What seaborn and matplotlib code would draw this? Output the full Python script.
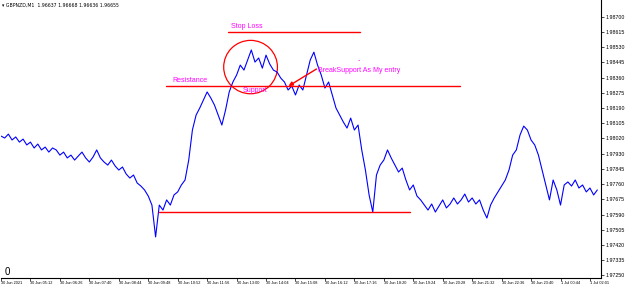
import numpy as np
import pandas as pd
import seaborn as sns
import matplotlib.pyplot as plt
from matplotlib.patches import Ellipse

# ---- data (GBPNZD M1, sampled) ----
prices = [
    1.98031, 1.98020, 1.98042, 1.98009, 1.98026, 1.97997, 1.98014, 1.97981, 1.97997, 1.97964,
    1.97986, 1.97953, 1.97969, 1.97941, 1.97964, 1.97953, 1.97924, 1.97941, 1.97908, 1.97924,
    1.97896, 1.97919, 1.97941, 1.97908, 1.97885, 1.97913, 1.97953, 1.97908, 1.97885, 1.97868,
    1.97896, 1.97863, 1.97840, 1.97857, 1.97818, 1.97795, 1.97812, 1.97767, 1.97750, 1.97728,
    1.97694, 1.97643, 1.97464, 1.97643, 1.97615, 1.97672, 1.97643, 1.97700, 1.97717, 1.97756,
    1.97784, 1.97896, 1.98065, 1.98149, 1.98189, 1.98234, 1.98279, 1.98245, 1.98205, 1.98149,
    1.98093, 1.98177, 1.98279, 1.98335, 1.98374, 1.98430, 1.98402, 1.98458, 1.98515, 1.98447,
    1.98470, 1.98413, 1.98486, 1.98436, 1.98402, 1.98391, 1.98357, 1.98335, 1.98290, 1.98312,
    1.98262, 1.98318, 1.98290, 1.98374, 1.98458, 1.98503, 1.98430, 1.98374, 1.98301, 1.98335,
    1.98262, 1.98189, 1.98149, 1.98110, 1.98076, 1.98132, 1.98065, 1.98093, 1.97953, 1.97840,
    1.97700, 1.97604, 1.97812, 1.97868, 1.97896, 1.97953, 1.97908, 1.97868, 1.97829, 1.97851,
    1.97784, 1.97728, 1.97756, 1.97694, 1.97672, 1.97643, 1.97615, 1.97649, 1.97604, 1.97638,
    1.97672, 1.97627, 1.97649, 1.97683, 1.97649, 1.97672, 1.97705, 1.97660, 1.97683, 1.97649,
    1.97672, 1.97615, 1.97570, 1.97643, 1.97683, 1.97717, 1.97750, 1.97784, 1.97840, 1.97924,
    1.97953, 1.98037, 1.98087, 1.98065, 1.98009, 1.97981, 1.97924, 1.97840, 1.97756, 1.97672,
    1.97784, 1.97728, 1.97643, 1.97756, 1.97773, 1.97750, 1.97784, 1.97739, 1.97756, 1.97717,
    1.97739, 1.97700, 1.97728,
]

time_labels = [
    "30 Jun 2021", "30 Jun 05:12", "30 Jun 06:26", "30 Jun 07:40", "30 Jun 08:44",
    "30 Jun 09:48", "30 Jun 10:52", "30 Jun 11:56", "30 Jun 13:00", "30 Jun 14:04",
    "30 Jun 15:08", "30 Jun 16:12", "30 Jun 17:16", "30 Jun 18:20", "30 Jun 19:24",
    "30 Jun 20:28", "30 Jun 21:32", "30 Jun 22:36", "30 Jun 23:40", "1 Jul 00:44",
    "1 Jul 02:01",
]

price_ticks = [
    "1.98700", "1.98615", "1.98530", "1.98445", "1.98360", "1.98275", "1.98190",
    "1.98105", "1.98020", "1.97930", "1.97845", "1.97760", "1.97675", "1.97590",
    "1.97505", "1.97420", "1.97335", "1.97250",
]

stop_loss = 1.98616
resistance = 1.98312
support_low = 1.97604

sns.set_theme(style="white")
plt.rcParams['font.family'] = ['Liberation Sans', 'DejaVu Sans']

fig = plt.figure(figsize=(6.25, 2.89), dpi=100)
fig.patch.set_facecolor('white')
ax = fig.add_axes([0.0016, 11 / 289, 601 / 625 - 0.0016, 278 / 289])
ax.set_facecolor('white')

df = pd.DataFrame({'bar': np.arange(len(prices)), 'price': prices})
sns.lineplot(data=df, x='bar', y='price', color='#0000FF', lw=0.8,
             estimator=None, ax=ax)

ax.set_xlim(0, 163)
ax.set_ylim(1.97233, 1.98796)

# right price axis
ax.yaxis.tick_right()
ax.set_yticks([float(t) for t in price_ticks])
ax.set_yticklabels(price_ticks)
ax.tick_params(axis='y', which='both', direction='out', length=2.5, width=0.5,
               labelsize=3.8, pad=1, right=True, left=False, colors='black')

# time axis
ax.set_xticks(np.arange(len(time_labels)) * 8)
ax.set_xticklabels(time_labels, ha='left')
ax.tick_params(axis='x', direction='out', length=2, width=0.5, labelsize=2.8,
               pad=0.5, bottom=True, colors='black')
ax.set_xlabel('')
ax.set_ylabel('')

for s in ['top', 'left']:
    ax.spines[s].set_visible(False)
for s in ['right', 'bottom']:
    ax.spines[s].set_color('black')
    ax.spines[s].set_linewidth(0.8)

red = '#FF0000'
mag = '#FF00FF'
# horizontal levels
ax.plot([61.8, 97.6], [stop_loss, stop_loss], color=red, lw=1)
ax.plot([44.8, 124.8], [resistance, resistance], color=red, lw=1)
ax.plot([42.9, 111.2], [support_low, support_low], color=red, lw=1)

# circle
ax.add_patch(Ellipse((67.8, 1.98419), width=14.6, height=0.00300,
                     fill=False, edgecolor=red, lw=0.9))

# arrow
ax.annotate('', xy=(78.1, resistance), xytext=(85.7, 1.98408),
            arrowprops=dict(arrowstyle='-|>', color=red, lw=1,
                            mutation_scale=6, shrinkA=0, shrinkB=0))

ax.text(62.4, 1.98627, 'Stop Loss', color=mag, fontsize=5, va='bottom', ha='left')
ax.text(46.6, 1.98323, 'Resistance', color=mag, fontsize=5, va='bottom', ha='left')
ax.text(65.6, 1.98305, 'Support', color=mag, fontsize=5, va='top', ha='left')
ax.text(86.2, 1.98402, 'BreakSupport As My entry', color=mag, fontsize=5,
        va='center', ha='left')
ax.text(97.1, 1.98453, '-', color=mag, fontsize=5, va='center', ha='center')

fig.text(2 / 625, 1 - 5 / 289, '\u25be GBPNZD,M1  1.96637 1.96668 1.96636 1.96655',
         fontsize=3.3, va='center', ha='left', color='black',
         family=['DejaVu Sans'])
fig.text(5 / 625, 1 - 272 / 289, '0', fontsize=7, va='center', ha='left', color='black')

fig.savefig('out.png', dpi=100, facecolor='white')
